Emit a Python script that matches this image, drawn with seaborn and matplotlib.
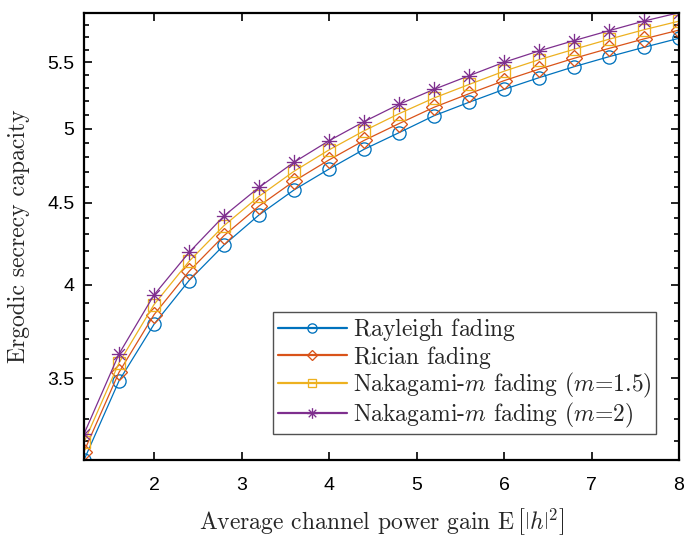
import numpy as np
import pandas as pd
import matplotlib
matplotlib.use("Agg")
import matplotlib.pyplot as plt
import seaborn as sns
from matplotlib.path import Path
from matplotlib.ticker import NullFormatter, FixedLocator
from matplotlib.font_manager import FontProperties

# ---- data ----
gain = [1.2, 1.6, 2.0, 2.4, 2.8, 3.2, 3.6, 4.0, 4.4, 4.8, 5.2, 5.6, 6.0, 6.4, 6.8, 7.2, 7.6, 8.0]
rayleigh = [3.114, 3.487, 3.781, 4.025, 4.235, 4.421, 4.582, 4.721, 4.856, 4.973,
            5.095, 5.194, 5.291, 5.380, 5.465, 5.544, 5.619, 5.692]
rician = [3.152, 3.530, 3.833, 4.078, 4.292, 4.478, 4.640, 4.783, 4.918, 5.038,
          5.157, 5.258, 5.357, 5.446, 5.531, 5.610, 5.687, 5.759]
nakagami15 = [3.193, 3.578, 3.889, 4.137, 4.354, 4.540, 4.706, 4.852, 4.986, 5.110,
              5.226, 5.328, 5.430, 5.520, 5.603, 5.684, 5.762, 5.833]
nakagami2 = [3.232, 3.624, 3.943, 4.190, 4.415, 4.599, 4.767, 4.916, 5.052, 5.179,
             5.291, 5.395, 5.500, 5.590, 5.673, 5.754, 5.834, 5.904]

labels = ["Rayleigh fading", "Rician fading",
          "Nakagami-$m$ fading ($m$=1.5)", "Nakagami-$m$ fading ($m$=2)"]
xticks = [2, 3, 4, 5, 6, 7, 8]
yticks = [3.5, 4, 4.5, 5, 5.5]
ytick_labels = ["3.5", "4", "4.5", "5", "5.5"]

colors = ["#0072BD", "#D95319", "#EDB120", "#7E2F8E"]

sns.set_style("ticks")
plt.rcParams["font.family"] = ["cmr10", "DejaVu Serif"]
plt.rcParams["mathtext.fontset"] = "cm"
plt.rcParams["axes.formatter.use_mathtext"] = True

fig = plt.figure(figsize=(6.86, 5.43), dpi=100)
ax = fig.add_axes([84 / 686, 1 - 460 / 543, 595 / 686, 447.3 / 543])
renderer = fig.canvas.get_renderer()
prop17 = FontProperties(family=["cmr10", "DejaVu Serif"], size=17)
_, lp_h, lp_d = renderer.get_text_width_height_descent("lp", prop17, ismath=False)


def metrics(s):
    """(height, descent) as matplotlib's text layout sees it, or None if unparsable."""
    try:
        ismath = s.count("$") >= 2
        _, h, d = renderer.get_text_width_height_descent(s, prop17, ismath=ismath)
        return max(h, lp_h), max(d, lp_d)
    except Exception:
        return None


# equalise legend row heights with an invisible strut (chosen by measurement)
target = metrics(labels[2])
struts = ["", r"${}_{\ }$", r"${}^{\ }_{\ }$", r"${}^{\,}_{\,}$", r"$\vphantom{(}$"]
for i in (0, 1):
    best, best_err = labels[i], None
    for st in struts:
        cand = labels[i] + st
        m = metrics(cand)
        if m is None or target is None:
            continue
        err = abs(m[0] - target[0]) + abs(m[1] - target[1])
        if best_err is None or err < best_err - 1e-6:
            best, best_err = cand, err
    labels[i] = best

# x label: pick the bracket form whose delimiters come closest to \big size
xl_prefix = "Average channel power gain E"
xl_cands = [r"$\,\big[|h|^2\big]$",
            r"$\,\left[\left|h\right|^{2^{\ }}_{\ _{\ _{\ }}}\right]$",
            r"$\,\left[\left|h\right|^{2}_{\ _{\ _{\ }}}\right]$",
            r"$\,\left[\left|h\right|^{2}_{\ _{\ }}\right]$",
            r"$\,\left[\left|h\right|^{2}_{\,}\right]$",
            r"$\,\left[\left|h\right|^2\right]$"]
em = 17 * 100 / 72
best_xl, best_err = xl_prefix + xl_cands[-1], None
for c in xl_cands:
    try:
        _, h, d = renderer.get_text_width_height_descent(c, prop17, ismath=True)
    except Exception:
        continue
    err = abs(h - 1.22 * em)
    if best_err is None or err < best_err:
        best_xl, best_err = xl_prefix + c, err
xlabel = best_xl

# asterisk marker (MATLAB '*')
s = 0.5
d = s * np.sqrt(0.5)
verts = [(-s, 0), (s, 0), (0, -s), (0, s), (-d, -d), (d, d), (-d, d), (d, -d)]
codes = [Path.MOVETO, Path.LINETO] * 4
asterisk = Path(verts, codes)
markers = ["o", "D", "s", asterisk]
msizes = [9.5, 8.0, 8.5, 11.0]

series = [rayleigh, rician, nakagami15, nakagami2]
for vals, lab, c, m, ms in zip(series, labels, colors, markers, msizes):
    df = pd.DataFrame({"gain": gain, "cap": vals})
    sns.lineplot(data=df, x="gain", y="cap", ax=ax, color=c, linewidth=0.9,
                 marker=m, markersize=ms, markerfacecolor="none",
                 markeredgecolor=c, markeredgewidth=0.95, label=lab)

ax.set_yscale("log")
ax.set_xlim(min(gain), max(gain))
ax.set_ylim(min(rayleigh), max(nakagami2))

ax.set_xticks(xticks)
ax.set_xticklabels([str(t) for t in xticks])
ax.yaxis.set_major_locator(FixedLocator(yticks))
ax.set_yticklabels(ytick_labels)
minor = [v / 10 for v in range(32, 60) if v % 5 != 0]
ax.yaxis.set_minor_locator(FixedLocator(minor))
ax.yaxis.set_minor_formatter(NullFormatter())
ax.xaxis.set_minor_locator(FixedLocator([]))

for lbl in ax.get_xticklabels() + ax.get_yticklabels():
    lbl.set_fontfamily("Liberation Sans")
    lbl.set_fontsize(14)

ax.tick_params(which="both", direction="in", top=True, right=True, colors="black", width=1.2)
ax.tick_params(which="major", length=6)
ax.tick_params(axis="x", which="major", pad=12)
ax.tick_params(axis="y", which="major", pad=7)
ax.tick_params(which="minor", length=3.5)
for sp in ax.spines.values():
    sp.set_linewidth(1.6)
    sp.set_color("black")
    sp.set_visible(True)

ax.set_xlabel(xlabel, fontsize=17, labelpad=9)
ax.set_ylabel("Ergodic secrecy capacity", fontsize=17, labelpad=12)

leg = ax.legend(loc="lower right", bbox_to_anchor=(0.961, 0.058), borderaxespad=0,
                fontsize=17, frameon=True, fancybox=False, handlelength=2.93,
                handletextpad=0.25, labelspacing=0.02, borderpad=0.18)
leg.get_frame().set_edgecolor("#262626")
leg.get_frame().set_linewidth(1.0)
for h in leg.legend_handles:
    h.set_linewidth(1.6)
    h.set_markersize(h.get_markersize() * 0.7)

fig.savefig("out.png", dpi=100)
